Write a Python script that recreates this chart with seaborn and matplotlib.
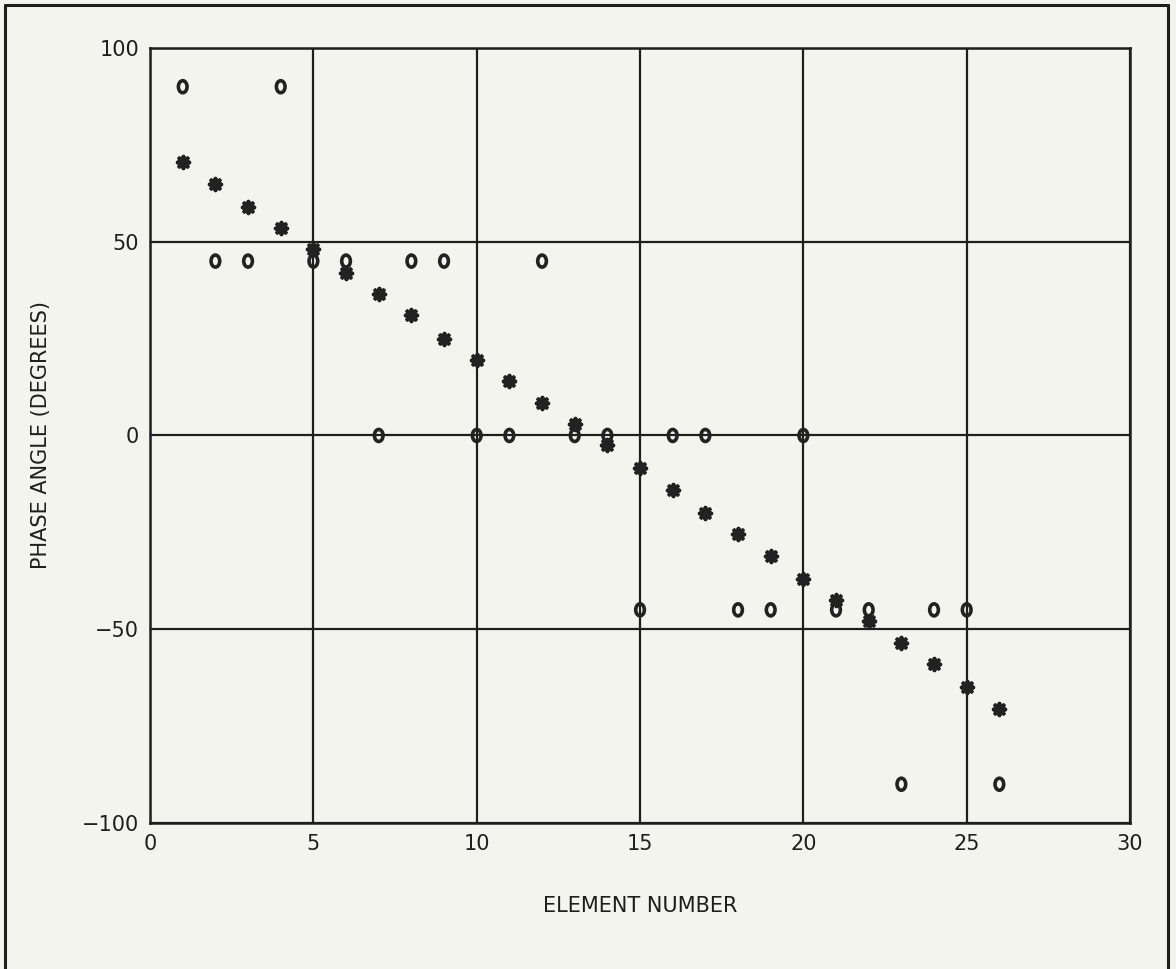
import numpy as np
import pandas as pd
import seaborn as sns
import matplotlib.pyplot as plt
from matplotlib.lines import Line2D
from matplotlib.path import Path
from matplotlib.transforms import Affine2D

elements = list(range(1, 27))
desired_phase = [70.5, 65, 59, 53.5, 48, 42, 36.5, 31, 25, 19.5, 14, 8.5, 3,
                 -2.5, -8.5, -14, -20, -25.5, -31, -37, -42.5, -48, -53.5,
                 -59, -65, -70.5]
quantized_phase = [90, 45, 45, 90, 45, 45, 0, 45, 45, 0, 0, 45, 0,
                   0, -45, 0, 0, -45, -45, 0, -45, -45, -90, -45, -45, -90]

sns.set_style('white')
plt.rcParams['font.family'] = ['DejaVu Sans']

bg = '#f4f4ef'
fig = plt.figure(figsize=(11.76, 9.69), dpi=100, facecolor=bg)
ax = fig.add_axes([0.1276, 0.1507, 0.8333, 0.7998], facecolor=bg)

df = pd.DataFrame({'element': elements, 'desired': desired_phase,
                   'quantized': quantized_phase})

oval = Path.unit_circle().transformed(Affine2D().scale(0.72, 1.0))

sns.scatterplot(data=df, x='element', y='quantized', ax=ax, marker=oval,
                s=75, facecolor='none', edgecolor='#222222', linewidth=2.6,
                zorder=4)
sns.scatterplot(data=df, x='element', y='desired', ax=ax, marker=(8, 2, 0),
                s=70, color='#222222', edgecolor='#222222', linewidth=2.8,
                zorder=5)

ax.set_xlim(0, 30)
ax.set_ylim(-100, 100)
ax.set_xticks([0, 5, 10, 15, 20, 25, 30])
ax.set_yticks([-100, -50, 0, 50, 100])
ax.set_yticklabels(['\u2212100', '\u221250', '0', '50', '100'])
ax.grid(True, color='#1e1e1e', linewidth=1.6)
ax.tick_params(length=0, labelsize=15, colors='#1e1e1e', pad=8)
for s in ax.spines.values():
    s.set_visible(True)
    s.set_color('#1e1e1e')
    s.set_linewidth(1.8)

ax.set_xlabel('ELEMENT NUMBER', fontsize=15, color='#1e1e1e', labelpad=30)
ax.set_ylabel('PHASE ANGLE (DEGREES)', fontsize=15, color='#1e1e1e', labelpad=22)

# outer frame (open at the bottom)
frame_kw = dict(color='#1e1e1e', linewidth=2.2, transform=fig.transFigure)
fig.add_artist(Line2D([5 / 1176, 5 / 1176], [0, 1 - 5 / 969], **frame_kw))
fig.add_artist(Line2D([5 / 1176, 1168 / 1176], [1 - 5 / 969, 1 - 5 / 969], **frame_kw))
fig.add_artist(Line2D([1168 / 1176, 1168 / 1176], [0, 1 - 5 / 969], **frame_kw))

plt.savefig('out.png', dpi=100, facecolor=bg)
